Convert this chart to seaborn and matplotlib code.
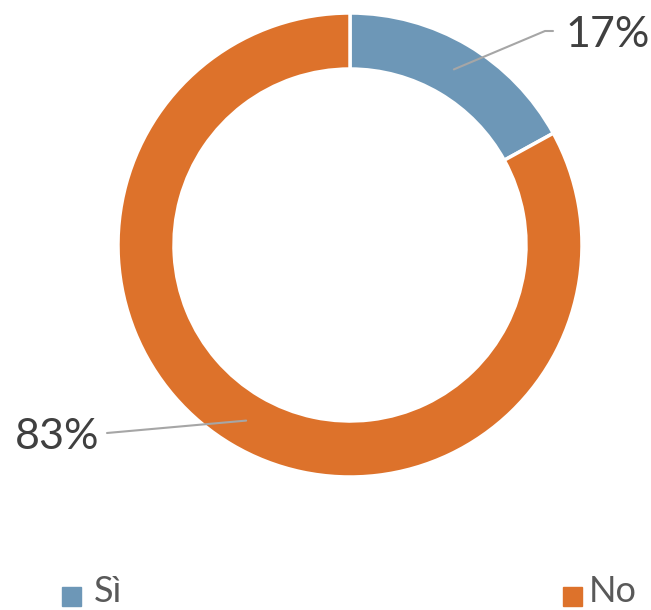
import matplotlib.pyplot as plt
import matplotlib.patches as mpatches
import seaborn as sns
import numpy as np

# Data
labels = ['Sì', 'No']
values = [17, 83]
pct_labels = ['17%', '83%']
colors = ['#6D97B7', '#DD722B']

sns.set_theme(style='white')
plt.rcParams['font.family'] = ['Lato', 'DejaVu Sans']

fig = plt.figure(figsize=(6.51, 6.10), dpi=100)
ax = fig.add_axes([0, 0, 1, 1])

# Donut
cx, cy, r, w = 350, 365, 232, 56
wedges, _ = ax.pie(values, colors=colors, startangle=90, counterclock=False,
                   radius=r, center=(cx, cy), frame=True,
                   wedgeprops=dict(width=w, edgecolor='white', linewidth=2.5))
ax.set_xlim(0, 651)
ax.set_ylim(0, 610)
ax.set_aspect('equal')
ax.axis('off')

# Labels with leader lines
text_pos = [(565, 575, 'left', 553, 579), (99, 173, 'right', 107, 177)]
for wdg, lab, (tx, ty, ha, ex, ey) in zip(wedges, pct_labels, text_pos):
    mid = np.deg2rad((wdg.theta1 + wdg.theta2) / 2)
    sx = cx + (r - w / 2) * np.cos(mid)
    sy = cy + (r - w / 2) * np.sin(mid)
    if ha == 'left':
        ax.plot([sx, ex - 8, ex], [sy, ey, ey], color='#A6A6A6', lw=1.5)
    else:
        ax.plot([sx, ex], [sy, ey], color='#A6A6A6', lw=1.5)
    ax.text(tx, ty, lab, ha=ha, va='center', fontsize=31, color='#404040')

# Legend
leg_pos = [(62, 94), (563, 589)]
for lab, col, (sqx, txx) in zip(labels, colors, leg_pos):
    ax.add_patch(mpatches.Rectangle((sqx, 4), 19, 19, color=col))
    ax.text(txx, 19, lab, ha='left', va='center', fontsize=26, color='#595959')

fig.savefig('out.png', dpi=100)
